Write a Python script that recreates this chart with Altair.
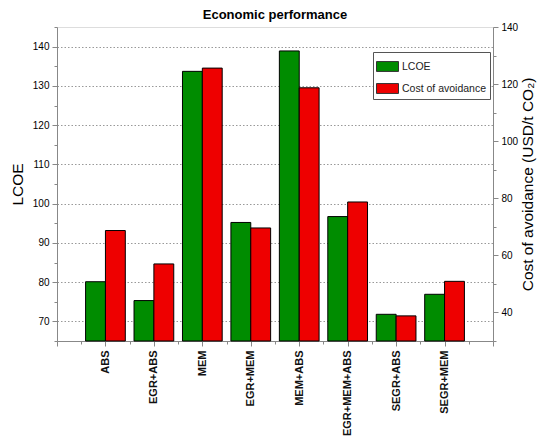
import json
import altair as alt
import pandas as pd

categories = ["ABS", "EGR+ABS", "MEM", "EGR+MEM", "MEM+ABS", "EGR+MEM+ABS", "SEGR+ABS", "SEGR+MEM"]
lcoe = [80.1, 75.3, 133.7, 95.2, 138.9, 96.7, 71.8, 76.9]
cost_avoidance = [68.7, 57.0, 125.6, 69.6, 118.7, 78.7, 38.8, 50.9]
series_names = ["LCOE", "Cost of avoidance"]
series_colors = ["#008c00", "#ee0000"]

df = pd.DataFrame({
    "pos": list(range(1, len(categories) + 1)),
    "category": categories,
    "lcoe": lcoe,
    "cost": cost_avoidance,
})

FONT = "Liberation Sans"
half = 0.41

cat_js = json.dumps(categories)
x_label_expr = (
    f"(datum.value >= 1 && datum.value <= 8 && datum.value % 1 === 0) ? {cat_js}[datum.value - 1] : ''"
)

x_axis = alt.Axis(
    values=[i * 0.5 for i in range(0, 19)],
    labelExpr=x_label_expr,
    labelAngle=270,
    labelFontWeight="bold",
    labelFontSize=11,
    labelColor="#111",
    labelPadding=4,
    labelOverlap=False,
    labelFlush=False,
    tickSize={"condition": {"test": "datum.value % 1 === 0", "value": 5}, "value": 3},
    grid=False,
    title=None,
)

color = alt.Color(
    "series:N",
    scale=alt.Scale(domain=series_names, range=series_colors),
    legend=alt.Legend(
        title=None,
        orient="none",
        legendX=316,
        legendY=25,
        strokeColor="#555",
        fillColor="white",
        padding=3,
        labelFont=FONT,
        labelFontSize=10.5,
        labelColor="#222",
        labelOffset=3,
        rowPadding=3,
        symbolType="M-1,-0.45H1V0.45H-1Z",
        symbolSize=484,
        symbolStrokeColor="#333",
        symbolStrokeWidth=1,
        symbolOpacity=1,
    ),
)

green = alt.Chart(df).transform_calculate(
    x0=f"datum.pos - {half}", x1="datum.pos", series="'LCOE'"
).mark_bar(stroke="black", strokeWidth=1, opacity=1).encode(
    x=alt.X("x0:Q", scale=alt.Scale(domain=[0, 9], nice=False, zero=False), axis=x_axis),
    x2="x1:Q",
    y=alt.Y(
        "lcoe:Q",
        scale=alt.Scale(domain=[65, 145], nice=False, zero=False),
        axis=alt.Axis(
            orient="left",
            values=[65 + 5 * i for i in range(17)],
            labelExpr="datum.value % 10 === 0 ? datum.value : ''",
            tickSize={"condition": {"test": "datum.value % 10 === 0", "value": 5}, "value": 3},
            grid=True,
            gridDash=[1.5, 2],
            gridColor="#999",
            gridWidth=1,
            gridOpacity={"condition": {"test": "datum.value % 10 === 0", "value": 1}, "value": 0},
            title="LCOE",
            titleFont=FONT,
            titleFontWeight="normal",
            titleFontSize=15.5,
            titlePadding=7,
            labelPadding=3,
            labelOverlap=False,
            labelFlush=False,
        ),
    ),
    y2=alt.datum(65),
    color=color,
)

red = alt.Chart(df).transform_calculate(
    x0="datum.pos", x1=f"datum.pos + {half}", series="'Cost of avoidance'"
).mark_bar(stroke="black", strokeWidth=1, opacity=1).encode(
    x=alt.X("x0:Q", scale=alt.Scale(domain=[0, 9], nice=False, zero=False), axis=x_axis),
    x2="x1:Q",
    y=alt.Y(
        "cost:Q",
        scale=alt.Scale(domain=[30, 140], nice=False, zero=False),
        axis=alt.Axis(
            orient="right",
            values=[30 + 10 * i for i in range(12)],
            labelExpr="(datum.value % 20 === 0 && datum.value >= 40) ? datum.value : ''",
            tickSize={"condition": {"test": "datum.value % 20 === 0", "value": 5}, "value": 3},
            grid=False,
            title="Cost of avoidance (USD/t CO₂)",
            titleFont=FONT,
            titleFontWeight="normal",
            titleAngle=270,
            titleBaseline="top",
            titleFontSize=15.5,
            titlePadding=3,
            labelPadding=3,
            labelOverlap=False,
            labelFlush=False,
        ),
    ),
    y2=alt.datum(30),
    color=color,
)

chart = alt.layer(green, red).resolve_scale(y="independent").properties(
    width=436,
    height=314,
    autosize=alt.AutoSizeParams(type="none"),
    padding={"left": 49, "top": 19, "right": 49, "bottom": 95},
    title=alt.TitleParams(
        "Economic performance",
        font=FONT,
        fontSize=13,
        fontWeight="bold",
        color="black",
        anchor="middle",
        offset=0,
    ),
).configure_view(
    stroke="black", strokeWidth=1.5
).configure_axis(
    labelFont=FONT,
    labelFontSize=11.5,
    labelColor="#333",
    titleFont=FONT,
    titleFontWeight="normal",
    titleColor="black",
    domainColor="black",
    domainWidth=1.5,
    tickColor="black",
    tickWidth=1.2,
).configure(background="white")

chart.save("out.html", embed_options={"renderer": "svg", "actions": False})
